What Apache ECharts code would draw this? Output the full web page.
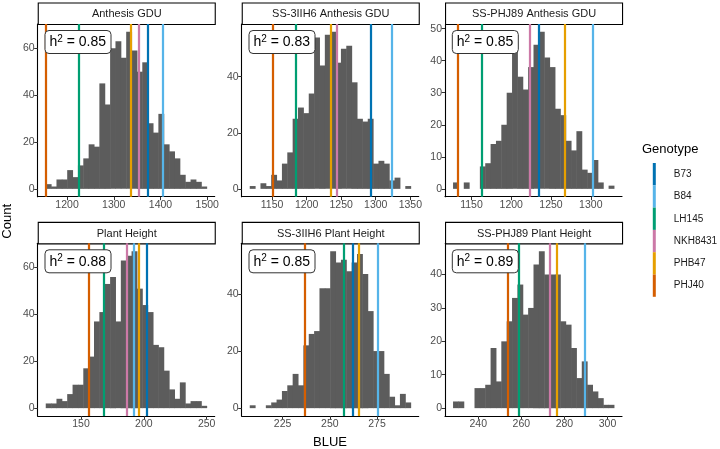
<!DOCTYPE html>
<html><head><meta charset="utf-8">
<script src="https://cdn.jsdelivr.net/npm/echarts@6/dist/echarts.min.js"></script>
<style>html,body{margin:0;padding:0;background:#fff}#c{width:720px;height:449px}</style>
</head><body><div id="c"></div>
<script>
// ---------------- data ----------------
const GENOTYPES = ['B73', 'B84', 'LH145', 'NKH8431', 'PHB47', 'PHJ40'];
const PANEL_NAMES = ['Anthesis GDU', 'SS-3IIH6 Anthesis GDU', 'SS-PHJ89 Anthesis GDU',
                     'Plant Height', 'SS-3IIH6 Plant Height', 'SS-PHJ89 Plant Height'];
const H2_VALUES = ['0.85', '0.83', '0.85', '0.88', '0.85', '0.89'];
const BIN_START = [1154.4, 1117.7, 1126.9, 121.9, 207.6, 228.3];
const BIN_WIDTH = [11.48, 7.76, 6.74, 4.27, 2.84, 2.49];

const COUNTS_ANTHESIS       = [2,1,4,4,8,5,10,13,19,18,45,36,60,63,56,67,59,50,54,28,24,32,19,16,13,6,3,4,3,1];
const COUNTS_3IIH6_ANTHESIS = [1,0,2,1,5,3,9,13,25,29,27,34,54,44,55,56,45,50,51,38,25,24,25,9,10,9,3,4,0,1];
const COUNTS_PHJ89_ANTHESIS = [2,0,2,0,0,7,8,14,15,20,30,43,35,31,38,45,49,41,38,25,23,15,12,18,6,5,9,2,0,1];
const COUNTS_HEIGHT         = [2,2,4,3,6,10,10,17,22,37,41,53,56,37,63,65,67,51,44,41,27,26,16,8,4,11,2,3,3,1];
const COUNTS_3IIH6_HEIGHT   = [1,0,0,1,2,3,6,8,12,8,22,26,27,42,42,55,51,52,48,51,54,47,34,20,20,12,4,1,5,2];
const COUNTS_PHJ89_HEIGHT   = [2,2,0,0,6,6,7,18,8,20,26,33,37,28,30,43,47,40,40,40,26,25,18,9,14,7,5,3,1,1];

// genotype BLUE values, in GENOTYPES order (null = not shown)
const GENO_ANTHESIS       = [1371.7, 1403.8, 1224.9, 1352.5, 1335.4, 1155.0];
const GENO_3IIH6_ANTHESIS = [1292.8, 1323.6, 1184.0, 1243.8, 1235.6, 1150.5];
const GENO_PHJ89_ANTHESIS = [1235.0, 1302.0, 1162.6, 1223.7, 1266.9, 1132.4];
const GENO_HEIGHT         = [202.0, 192.2, 167.8, 186.1, 195.9, 156.1];
const GENO_3IIH6_HEIGHT   = [262.0, 275.4, 257.2, null, 265.1, 236.6];
const GENO_PHJ89_HEIGHT   = [null, 289.3, 258.7, 273.4, 276.3, 253.9];

const X_TICKS_ANTHESIS       = [1200, 1300, 1400, 1500];
const X_TICKS_3IIH6_ANTHESIS = [1150, 1200, 1250, 1300, 1350];
const X_TICKS_PHJ89_ANTHESIS = [1150, 1200, 1250, 1300];
const X_TICKS_HEIGHT         = [150, 200, 250];
const X_TICKS_3IIH6_HEIGHT   = [225, 250, 275];
const X_TICKS_PHJ89_HEIGHT   = [240, 260, 280, 300];

const Y_TICKS_ANTHESIS       = [0, 20, 40, 60];
const Y_TICKS_3IIH6_ANTHESIS = [0, 20, 40];
const Y_TICKS_PHJ89_ANTHESIS = [0, 10, 20, 30, 40, 50];
const Y_TICKS_HEIGHT         = [0, 20, 40, 60];
const Y_TICKS_3IIH6_HEIGHT   = [0, 20, 40];
const Y_TICKS_PHJ89_HEIGHT   = [0, 10, 20, 30, 40];

const X_LABEL = 'BLUE';
const Y_LABEL = 'Count';
const LEGEND_TITLE = 'Genotype';

// ---------------- styling / layout ----------------
const GENO_COLORS = ['#0072B2', '#56B4E9', '#009E73', '#CC79A7', '#E69F00', '#D55E00'];
const BAR_FILL = '#5c5c5c';
const FONT = '"Liberation Sans", Arial, Helvetica, sans-serif';
const COL_LEFT = [37.7, 241.7, 445];
const ROW_TOP = [24, 243.3];
const PANEL_W = 177;
const PANEL_H = 172.7;
const STRIP_H = 21.5;

const COUNTS = [COUNTS_ANTHESIS, COUNTS_3IIH6_ANTHESIS, COUNTS_PHJ89_ANTHESIS,
                COUNTS_HEIGHT, COUNTS_3IIH6_HEIGHT, COUNTS_PHJ89_HEIGHT];
const GENO = [GENO_ANTHESIS, GENO_3IIH6_ANTHESIS, GENO_PHJ89_ANTHESIS,
              GENO_HEIGHT, GENO_3IIH6_HEIGHT, GENO_PHJ89_HEIGHT];
const XT = [X_TICKS_ANTHESIS, X_TICKS_3IIH6_ANTHESIS, X_TICKS_PHJ89_ANTHESIS,
            X_TICKS_HEIGHT, X_TICKS_3IIH6_HEIGHT, X_TICKS_PHJ89_HEIGHT];
const YT = [Y_TICKS_ANTHESIS, Y_TICKS_3IIH6_ANTHESIS, Y_TICKS_PHJ89_ANTHESIS,
            Y_TICKS_HEIGHT, Y_TICKS_3IIH6_HEIGHT, Y_TICKS_PHJ89_HEIGHT];

const grids = [], xAxes = [], yAxes = [], series = [], titles = [], graphics = [];
const plain = function (v) { return String(v); };

for (let p = 0; p < 6; p++) {
  const left = COL_LEFT[p % 3], top = ROW_TOP[Math.floor(p / 3)];
  grids.push({left: left, top: top, width: PANEL_W, height: PANEL_H, containLabel: false});

  const counts = COUNTS[p], start = BIN_START[p], w = BIN_WIDTH[p];
  const end = start + counts.length * w;
  const span = end - start;
  const maxC = Math.max.apply(null, counts);

  const axisCommon = {
    axisLine: {show: true, onZero: false, lineStyle: {color: '#000', width: 1.1}},
    splitLine: {show: false},
    axisPointer: {show: false}
  };
  xAxes.push(Object.assign({
    type: 'value', gridIndex: p,
    min: start - 0.05 * span, max: end + 0.05 * span,
    axisTick: {show: true, length: 3.5, lineStyle: {color: '#333', width: 1}, customValues: XT[p]},
    axisLabel: {color: '#4d4d4d', fontSize: 10.5, margin: 3, customValues: XT[p],
                fontFamily: FONT, formatter: plain}
  }, axisCommon));
  yAxes.push(Object.assign({
    type: 'value', gridIndex: p,
    min: -0.05 * maxC, max: 1.05 * maxC,
    axisTick: {show: true, length: 3.5, lineStyle: {color: '#333', width: 1}, customValues: YT[p]},
    axisLabel: {color: '#4d4d4d', fontSize: 10.5, margin: 3, customValues: YT[p],
                fontFamily: FONT, formatter: plain}
  }, axisCommon));

  // genotype reference lines (full colour, drawn below the bars)
  const overlay = [];
  GENOTYPES.forEach(function (g, gi) {
    const v = GENO[p][gi];
    series.push({
      type: 'line', name: g, xAxisIndex: p, yAxisIndex: p, data: [],
      color: GENO_COLORS[gi], z: 2, silent: true, animation: false,
      markLine: v == null ? undefined : {
        symbol: ['none', 'none'], silent: true, animation: false,
        label: {show: false}, emphasis: {disabled: true},
        lineStyle: {color: GENO_COLORS[gi], width: 2.2, type: 'solid', opacity: 1},
        data: [{xAxis: v}]
      }
    });
    if (v != null) overlay.push({xAxis: v, lineStyle: {color: GENO_COLORS[gi], width: 2.2, type: 'solid', opacity: 0.22}});
  });

  // histogram bars (opaque)
  series.push({
    type: 'custom', xAxisIndex: p, yAxisIndex: p, z: 3, silent: true, animation: false,
    data: counts.map(function (c, k) { return [start + k * w, start + (k + 1) * w, c]; })
                .filter(function (d) { return d[2] > 0; }),
    encode: {x: [0, 1], y: 2},
    renderItem: function (params, api) {
      const a = api.coord([api.value(0), api.value(2)]);
      const b = api.coord([api.value(1), 0]);
      return {type: 'rect', shape: {x: a[0], y: a[1], width: b[0] - a[0] + 0.5, height: b[1] - a[1]},
              style: {fill: BAR_FILL}};
    }
  });

  // faint copy of the lines on top of the bars (lines seen through bars)
  series.push({
    type: 'line', xAxisIndex: p, yAxisIndex: p, data: [], z: 4, silent: true, animation: false,
    markLine: {symbol: ['none', 'none'], silent: true, animation: false,
               label: {show: false}, emphasis: {disabled: true}, data: overlay}
  });

  // h^2 label
  titles.push({
    text: '{h|h}{s|2}{h| = ' + H2_VALUES[p] + '}',
    left: left + 6.8, top: top + 6,
    padding: [4, 5, 4, 5],
    backgroundColor: '#fff', borderColor: '#333', borderWidth: 1, borderRadius: 4,
    textStyle: {
      fontFamily: FONT, fontWeight: 'normal',
      rich: {
        h: {fontSize: 14, color: '#000', lineHeight: 17, fontFamily: FONT, fontWeight: 'normal'},
        s: {fontSize: 10, color: '#000', lineHeight: 10, verticalAlign: 'top', fontFamily: FONT, fontWeight: 'normal'}
      }
    }
  });

  // facet strip
  graphics.push({
    type: 'group', left: left, top: top - STRIP_H, silent: true,
    children: [
      {type: 'rect', shape: {x: 0, y: 0, width: PANEL_W, height: STRIP_H},
       style: {fill: '#fff', stroke: '#000', lineWidth: 1.1}},
      {type: 'text', x: PANEL_W / 2, y: STRIP_H / 2 + 0.5,
       style: {text: PANEL_NAMES[p], fontSize: 11, fill: '#1a1a1a', align: 'center',
               verticalAlign: 'middle', fontFamily: FONT}}
    ]
  });
}

titles.push({text: LEGEND_TITLE, left: 642, top: 143, padding: 0,
             textStyle: {fontSize: 13, fontWeight: 'normal', color: '#000', fontFamily: FONT}});

graphics.push({type: 'text', left: 1, top: 220 - 16, silent: true, rotation: Math.PI / 2,
               style: {text: Y_LABEL, fontSize: 13, fill: '#000', fontFamily: FONT}});
graphics.push({type: 'text', x: 330, y: 442, silent: true,
               style: {text: X_LABEL, fontSize: 13, fill: '#000', align: 'center',
                       verticalAlign: 'middle', fontFamily: FONT}});

const chart = echarts.init(document.getElementById('c'), null, {renderer: 'canvas'});
chart.setOption({
  animation: false,
  backgroundColor: '#fff',
  textStyle: {fontFamily: FONT},
  title: titles,
  grid: grids,
  xAxis: xAxes,
  yAxis: yAxes,
  legend: {
    data: GENOTYPES, orient: 'vertical', left: 652.8, top: 163,
    icon: 'rect', itemWidth: 3, itemHeight: 22.3, itemGap: 0, selectedMode: false, padding: 0,
    textStyle: {fontSize: 10, color: '#1a1a1a', fontFamily: FONT, padding: [0, 0, 0, 13]}
  },
  tooltip: {show: false},
  graphic: graphics,
  series: series
});
</script>
</body></html>
